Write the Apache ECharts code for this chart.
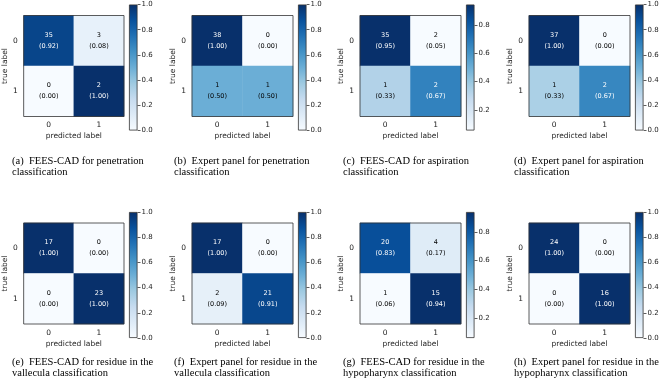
<!DOCTYPE html>
<html>
<head>
<meta charset="utf-8">
<script src="https://cdn.jsdelivr.net/npm/echarts@6/dist/echarts.min.js"></script>
<style>
  html, body { margin: 0; padding: 0; background: #fff; }
  #chart { width: 667px; height: 383px; }
</style>
</head>
<body>
<div id="chart"></div>
<script>
// confusion matrices, rows = true label, cols = predicted label
const classes = ['0', '1'];
const countsA = [[35, 3], [0, 2]];
const countsB = [[38, 0], [1, 1]];
const countsC = [[35, 2], [1, 2]];
const countsD = [[37, 0], [1, 2]];
const countsE = [[17, 0], [0, 23]];
const countsF = [[17, 0], [2, 21]];
const countsG = [[20, 4], [1, 15]];
const countsH = [[24, 0], [0, 16]];
const allCounts = [countsA, countsB, countsC, countsD, countsE, countsF, countsG, countsH];

const fullTicks = [0, 0.2, 0.4, 0.6, 0.8, 1.0];
const innerTicks = [0.2, 0.4, 0.6, 0.8];
const colorbarTicks = [fullTicks, fullTicks, innerTicks, fullTicks, fullTicks, fullTicks, innerTicks, fullTicks];

const captions = [
  '(a)  FEES-CAD for penetration\nclassification',
  '(b)  Expert panel for penetration\nclassification',
  '(c)  FEES-CAD for aspiration\nclassification',
  '(d)  Expert panel for aspiration\nclassification',
  '(e)  FEES-CAD for residue in the\nvallecula classification',
  '(f)  Expert panel for residue in the\nvallecula classification',
  '(g)  FEES-CAD for residue in the\nhypopharynx classification',
  '(h)  Expert panel for residue in the\nhypopharynx classification'
];

// matplotlib "Blues"
const blues = ['#f7fbff', '#deebf7', '#c6dbef', '#9ecae1', '#6baed6', '#4292c6', '#2171b5', '#08519c', '#08306b'];

const mplFont = 'DejaVu Sans';
const matLeft = [23, 192, 360, 529];
const matTop = [15.5, 223];
const matSize = 101;
const capLeft = [12, 174, 343, 514];
const capTop = [155, 356];

let chart = echarts.init(document.getElementById('chart'));

let grids = [], xAxes = [], yAxes = [], series = [], visualMaps = [], titles = [];
let cbGrids = [], cbX = [], cbY = [], cbSeries = [];
let n = allCounts.length;

allCounts.forEach((cm, i) => {
  let col = i % 4, row = Math.floor(i / 4);
  let fracs = cm.map(r => {
    let s = r[0] + r[1];
    return r.map(v => v / s);
  });
  let flat = [].concat(...fracs);
  let vmin = Math.min(...flat), vmax = Math.max(...flat);
  let thresh = vmax / 2;
  let data = [];
  cm.forEach((r, yi) => r.forEach((c, xi) => {
    let f = fracs[yi][xi];
    data.push({value: [xi, yi, f], count: c, label: {color: f > thresh ? '#ffffff' : '#000000'}});
  }));

  // heatmap
  grids.push({
    left: matLeft[col], top: matTop[row], width: matSize, height: matSize,
    show: true, borderColor: '#333', borderWidth: 0.8, z: 5
  });
  xAxes.push({
    type: 'category', data: classes, gridIndex: i,
    name: 'predicted label', nameLocation: 'middle', nameGap: 16,
    nameTextStyle: {fontFamily: mplFont, fontSize: 7.5, color: '#222'},
    axisLine: {show: false},
    axisTick: {alignWithLabel: true, length: 3, lineStyle: {color: '#333', width: 0.8}},
    axisLabel: {fontFamily: mplFont, fontSize: 7.5, color: '#222', margin: 5},
    splitLine: {show: false}
  });
  yAxes.push({
    type: 'category', data: classes, gridIndex: i, inverse: true,
    name: 'true label', nameLocation: 'middle', nameGap: 14, nameRotate: 90,
    nameTextStyle: {fontFamily: mplFont, fontSize: 7.5, color: '#222'},
    axisLine: {show: false},
    axisTick: {alignWithLabel: true, length: 3, lineStyle: {color: '#333', width: 0.8}},
    axisLabel: {fontFamily: mplFont, fontSize: 7.5, color: '#222', margin: 6},
    splitLine: {show: false}
  });
  series.push({
    type: 'heatmap', xAxisIndex: i, yAxisIndex: i, data: data,
    label: {
      show: true, fontFamily: mplFont, fontSize: 6.5, lineHeight: 11,
      formatter: p => p.data.count + '\n(' + p.data.value[2].toFixed(2) + ')'
    },
    emphasis: {disabled: true}
  });
  visualMaps.push({
    type: 'continuous', show: false, seriesIndex: i, dimension: 2,
    min: vmin, max: vmax, inRange: {color: blues}
  });
  titles.push({
    text: captions[i], left: capLeft[col], top: capTop[row], padding: 0,
    textStyle: {fontFamily: 'Liberation Serif', fontSize: 10.5, lineHeight: 11.5, fontWeight: 'normal', color: '#000'}
  });

  // colorbar
  let g = n + i;
  cbGrids.push({left: matLeft[col] + 106, top: matTop[row] - 11, width: 8.5, height: 126});
  cbX.push({type: 'category', data: [''], gridIndex: g, show: false});
  cbY.push({
    type: 'value', gridIndex: g, position: 'right', min: vmin, max: vmax,
    axisLine: {show: false}, splitLine: {show: false},
    axisTick: {show: true, length: 3, customValues: colorbarTicks[i], lineStyle: {color: '#333', width: 0.8}},
    axisLabel: {
      customValues: colorbarTicks[i], fontFamily: mplFont, fontSize: 7, color: '#222', margin: 4,
      formatter: v => v.toFixed(1)
    }
  });
  let stops = blues.map((c, k) => ({offset: 1 - k / (blues.length - 1), color: c}));
  cbSeries.push({
    type: 'bar', xAxisIndex: g, yAxisIndex: g, stack: 'cb' + i, barWidth: '100%',
    data: [vmin], itemStyle: {color: 'rgba(0,0,0,0)'}, silent: true
  });
  cbSeries.push({
    type: 'bar', xAxisIndex: g, yAxisIndex: g, stack: 'cb' + i, barWidth: '100%',
    data: [vmax - vmin], silent: true,
    itemStyle: {
      color: new echarts.graphic.LinearGradient(0, 0, 0, 1, stops),
      borderColor: '#333', borderWidth: 0.8
    }
  });
});

chart.setOption({
  animation: false,
  title: titles,
  grid: grids.concat(cbGrids),
  xAxis: xAxes.concat(cbX),
  yAxis: yAxes.concat(cbY),
  visualMap: visualMaps,
  series: series.concat(cbSeries)
});
</script>
</body>
</html>
